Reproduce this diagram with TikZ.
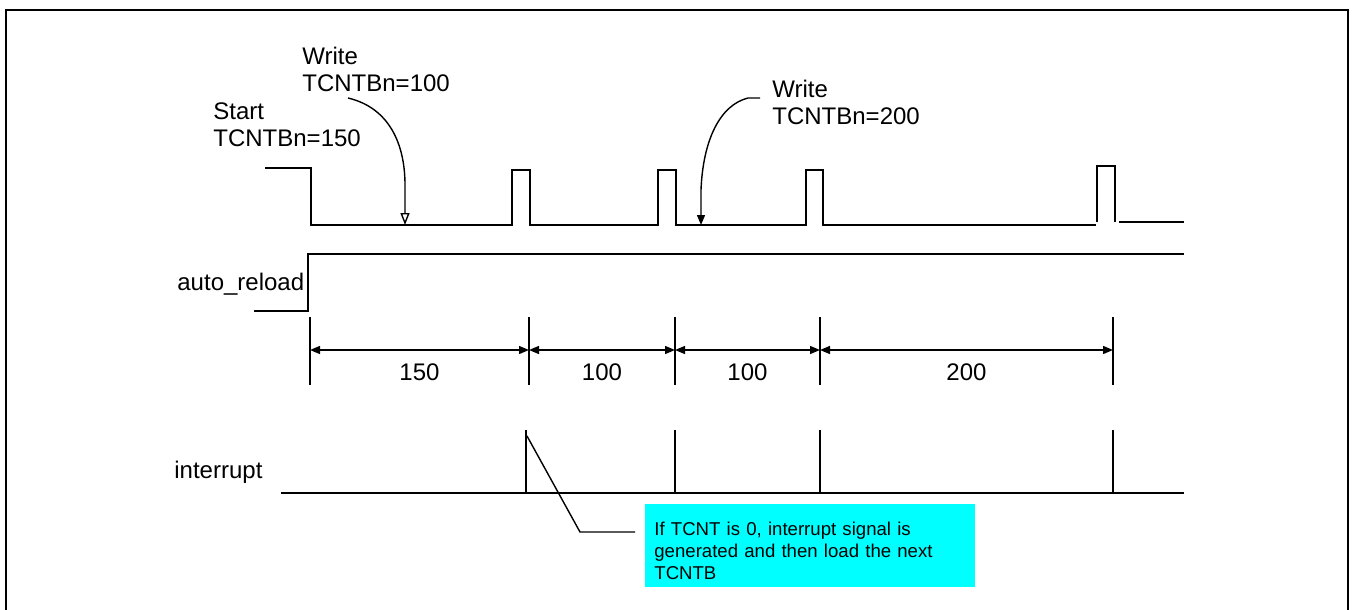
\documentclass[tikz,border=0pt]{standalone}
\usepackage{fontspec}
\setmainfont{Liberation Sans}
\usetikzlibrary{positioning, arrows.meta}
\definecolor{notecyan}{RGB}{0,255,255}

\begin{document}
\begin{tikzpicture}[
  x=0.5pt, y=-0.5pt,
  sig/.style={line width=0.7pt, black},
  lbl/.style={inner sep=0pt, align=left, font=\fontsize{12pt}{13.5pt}\selectfont},
  dimarr/.style={{Triangle[length=5pt, width=4pt]}-{Triangle[length=5pt, width=4pt]}, line width=0.7pt},
  wrarr/.style={line width=0.7pt},
  note/.style={fill=notecyan, minimum width=165pt, minimum height=41.5pt, inner xsep=4.5pt,
               text width=156pt, align=left, font=\fontsize{9.3pt}{11pt}\selectfont},
  framebox/.style={line width=1.1pt},
]
\useasboundingbox (0,0) rectangle (1355,610);

% Frame
\draw[framebox] (6,610) -- (6,10) -- (1348,10) -- (1348,610);

% Labels
\node[lbl, anchor=north west] (start) at (213,102) {Start\\TCNTBn=150};
\node[lbl, anchor=north west] (wr100) at (302,47) {Write\\TCNTBn=100};
\node[lbl, anchor=north west] (wr200) at (772,80) {Write\\TCNTBn=200};
\node[lbl, anchor=base west] (autoreload) at (177,290) {auto\_reload};
\node[lbl, anchor=base west] (intr) at (174,478) {interrupt};

% TCNT waveform
\draw[sig] (265,168) -- (311,168) -- (311,225) -- (512,225) -- (512,170) -- (530,170)
  -- (530,225) -- (658,225) -- (658,170) -- (676,170) -- (676,225) -- (806,225)
  -- (806,170) -- (823,170) -- (823,225) -- (1096,225);
\draw[sig] (1097,222) -- (1097,166) -- (1115,166) -- (1115,222);
\draw[sig] (1119,222) -- (1184,222);

% Write arrows
\coordinate (w1s) at (348,98);
\coordinate (w1e) at (405,225);
\coordinate (w2s) at (760,98);
\coordinate (w2e) at (701,225);
\draw[wrarr, -{Triangle[open, length=6pt, width=4.5pt]}] (w1s) .. controls (390,108) and (405,145) .. (405,185) -- (w1e);
\draw[wrarr, -{Triangle[length=5pt, width=4pt]}] (w2s) -- (748,98) .. controls (720,105) and (703,140) .. (701,190) -- (w2e);

% auto_reload
\draw[sig] (254,311) -- (308,311) -- (308,254) -- (1184,254);

% Dimension lines
\foreach \x in {310,529,675,820,1113}
  \draw[sig] (\x,317) -- (\x,385);
\foreach \a/\b/\v [count=\i] in {310/529/150, 529/675/100, 675/820/100, 820/1113/200} {
  \draw[dimarr] (\a,350) -- (\b,350);
  \node[lbl, anchor=base] (d\i) at ({(\a+\b)/2},380) {\v};
}

% interrupt
\draw[sig] (281,493) -- (1184,493);
\foreach \x in {526,675,820,1113}
  \draw[sig] (\x,430) -- (\x,493);

% Note
\node[note, anchor=north west] (callout) at (645,504) {\rule{0pt}{11.8pt}If TCNT is 0, interrupt signal is\\generated and then load the next\\TCNTB};
\coordinate (c1) at (527,436);
\coordinate (c2) at (580,532);
\coordinate (c3) at (635,532);
\draw[sig] (c1) -- (c2) -- (c3);

\end{tikzpicture}
\end{document}
